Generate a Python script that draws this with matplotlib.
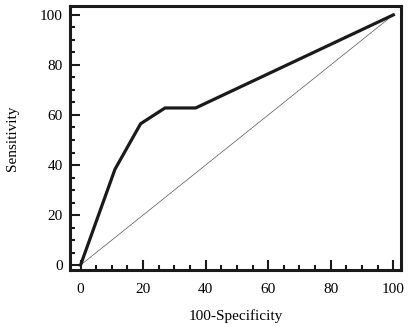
import matplotlib.pyplot as plt
from matplotlib.ticker import MultipleLocator

# ROC curve points
fpr = [0, 11, 19.2, 27, 36.8, 100]
tpr = [0, 38.3, 56.5, 62.8, 62.8, 100]
diag = [0, 100]

plt.rcParams['font.family'] = 'Liberation Serif'
plt.rcParams['font.size'] = 11

fig = plt.figure(figsize=(4.09, 3.27), dpi=100)
ax = fig.add_axes([0.171, 0.174, 0.809, 0.808])

ax.plot(diag, diag, c='#555555', lw=0.5)
ax.plot(fpr, tpr, c='#1a1a1a', lw=2.3, solid_joinstyle='miter')

ax.set_xlim(-3.4, 102.4)
ax.set_ylim(-2, 103.6)
ax.xaxis.set_major_locator(MultipleLocator(20))
ax.xaxis.set_minor_locator(MultipleLocator(5))
ax.yaxis.set_major_locator(MultipleLocator(20))
ax.yaxis.set_minor_locator(MultipleLocator(5))
ax.tick_params(which='both', direction='in', width=1.5, color='#1a1a1a')
ax.tick_params(which='major', length=7)
ax.tick_params(which='minor', length=3.5)
ax.tick_params(axis='x', which='major', pad=9)
ax.tick_params(axis='y', which='major', pad=5)
for s in ax.spines.values():
    s.set_linewidth(2.2)
    s.set_color('#1a1a1a')

ax.set_xlabel('100-Specificity', labelpad=10)
ax.set_ylabel('Sensitivity', labelpad=15)

plt.savefig('out.png', dpi=100)
